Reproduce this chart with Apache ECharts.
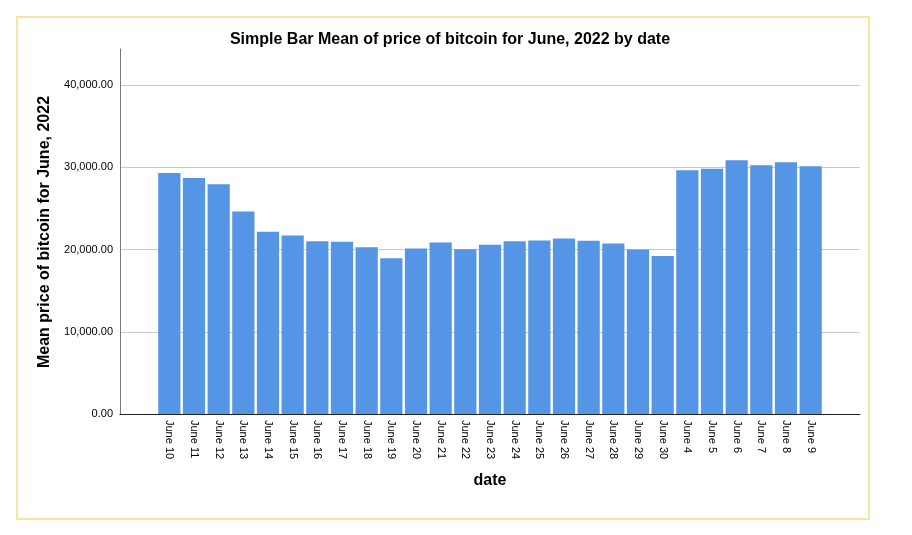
<!DOCTYPE html>
<html>
<head>
<meta charset="utf-8">
<script src="https://cdn.jsdelivr.net/npm/echarts@6/dist/echarts.min.js"></script>
<style>
html,body{margin:0;padding:0;background:#fff;}
#c{width:912px;height:535px;}
</style>
</head>
<body>
<div id="c"></div>
<script>
var categories = ['June 10','June 11','June 12','June 13','June 14','June 15','June 16','June 17','June 18','June 19','June 20','June 21','June 22','June 23','June 24','June 25','June 26','June 27','June 28','June 29','June 30','June 4','June 5','June 6','June 7','June 8','June 9'];
var meanPrice = [29300,28700,27930,24630,22160,21700,21020,20940,20280,18940,20120,20850,20040,20570,21020,21100,21340,21060,20730,20000,19230,29630,29840,30850,30240,30610,30120];
var yTicks = [0,10000,20000,30000,40000];

var FONT = 'Liberation Sans, Arial, sans-serif';
var Y_MAX = 44390;
var chart = echarts.init(document.getElementById('c'), null, {renderer:'canvas'});
chart.setOption({
  animation:false,
  backgroundColor:'#ffffff',
  title:{
    text:'Simple Bar Mean of price of bitcoin for June, 2022 by date',
    left:445, textAlign:'center', top:27,
    textStyle:{fontFamily:FONT, fontSize:16, fontWeight:'bold', color:'#000'}
  },
  graphic:[
    {type:'rect', shape:{x:17,y:17,width:852,height:502}, style:{fill:null, stroke:'#f3e6a3', lineWidth:2}, z:-1},
    {type:'text', x:45, y:232, rotation:Math.PI/2, style:{text:'Mean price of bitcoin for June, 2022', font:'bold 16px '+FONT, fill:'#000', align:'center', verticalAlign:'middle'}},
    {type:'text', x:490, y:481, style:{text:'date', font:'bold 16px '+FONT, fill:'#000', align:'center', verticalAlign:'middle'}}
  ],
  grid:[
    {left:120, right:52, top:49, bottom:121},
    {left:157, right:89, top:49, bottom:121}
  ],
  xAxis:[
    {gridIndex:0, type:'value', min:0, max:1,
     axisLine:{show:true, lineStyle:{color:'#222', width:1}},
     axisTick:{show:false}, axisLabel:{show:false}, splitLine:{show:false}},
    {gridIndex:1, type:'category', data:categories,
     axisLine:{show:false}, axisTick:{show:false},
     axisLabel:{rotate:-90, interval:0, margin:6, fontFamily:FONT, fontSize:11, color:'#000'}}
  ],
  yAxis:[
    {gridIndex:0, type:'value', min:0, max:Y_MAX, interval:10000,
     axisLine:{show:true, lineStyle:{color:'#777', width:1}},
     axisTick:{show:false},
     axisLabel:{showMaxLabel:false, margin:7, fontFamily:FONT, fontSize:11, color:'#000',
       formatter:function(v){ return yTicks.indexOf(v)>=0 ? v.toLocaleString('en-US',{minimumFractionDigits:2, maximumFractionDigits:2}) : ''; }},
     splitLine:{show:true, showMinLine:false, showMaxLine:false, lineStyle:{color:'#c8c8c8', width:1}}},
    {gridIndex:1, type:'value', min:0, max:Y_MAX, show:false}
  ],
  series:[{
    type:'bar', xAxisIndex:1, yAxisIndex:1,
    data:meanPrice, barCategoryGap:'10%',
    itemStyle:{color:'#5595e5'}
  }]
});
</script>
</body>
</html>
